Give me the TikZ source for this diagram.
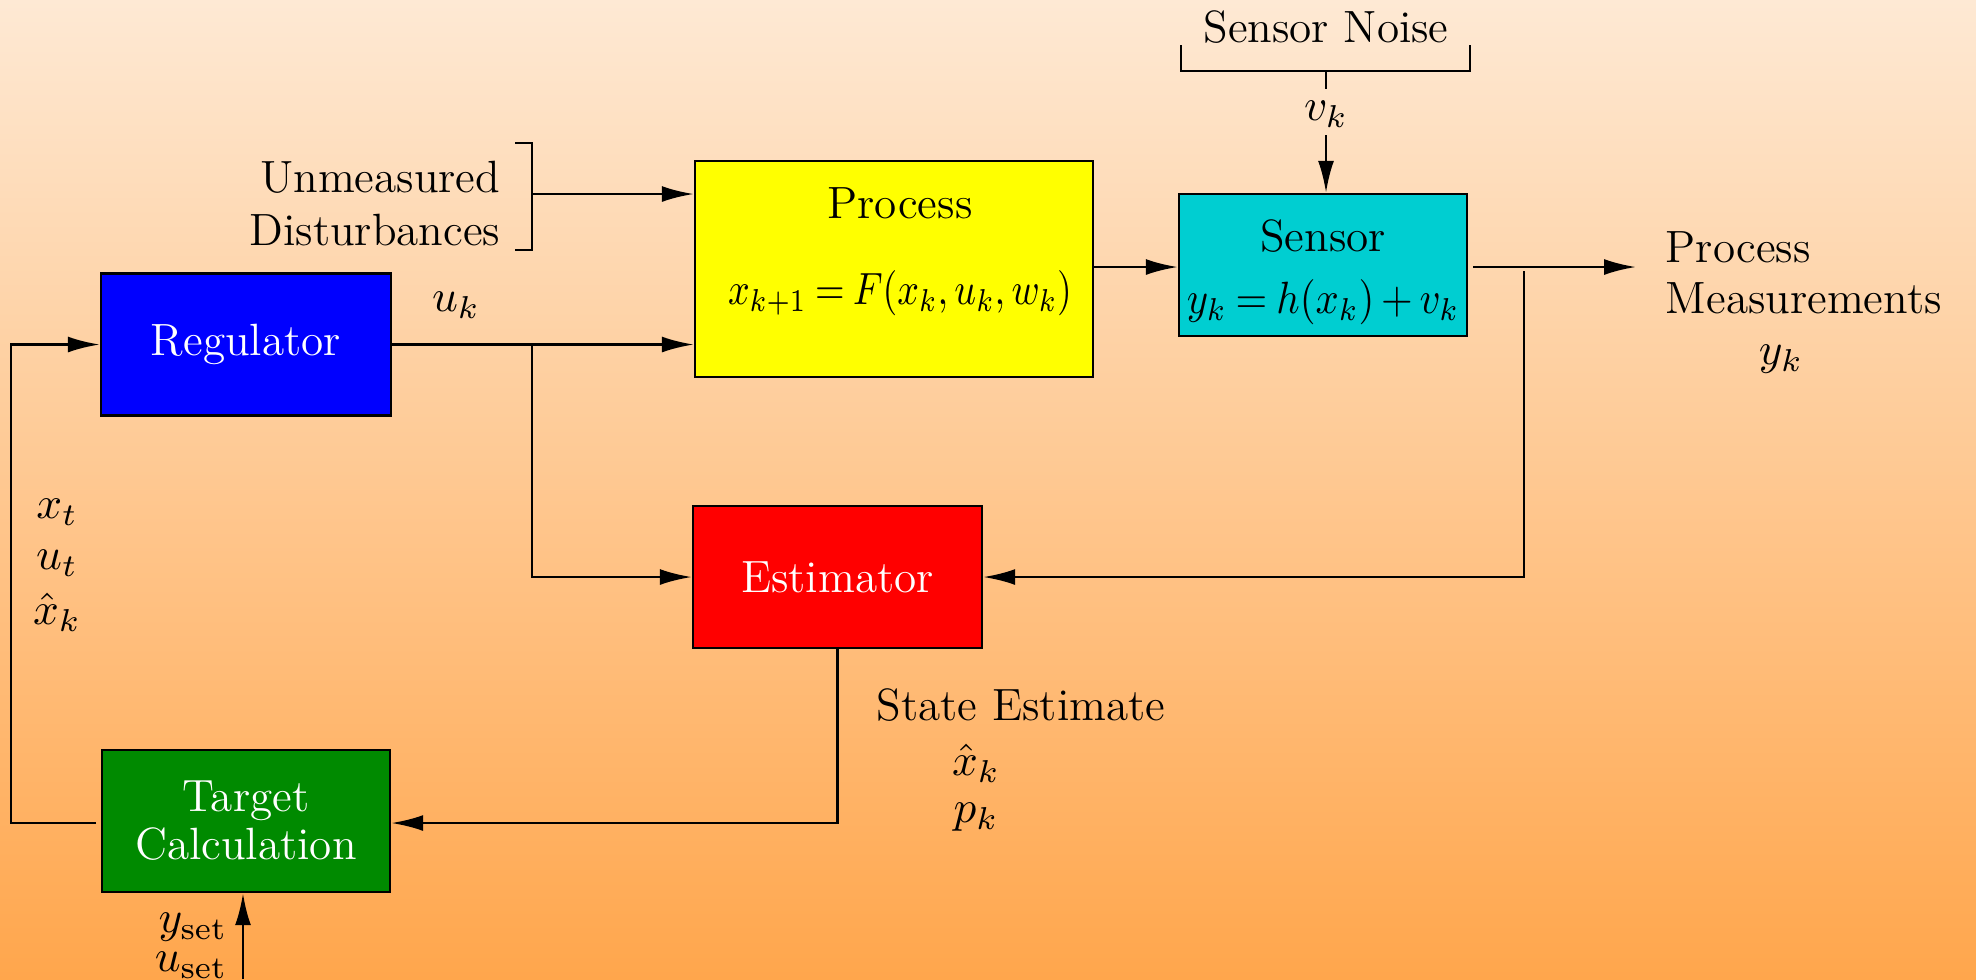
\documentclass[tikz,border=0pt]{standalone}
\usepackage{fix-cm}
\usepackage{graphicx}
\usetikzlibrary{arrows.meta}
\definecolor{bgtop}{RGB}{254,233,212}
\definecolor{bgbot}{RGB}{255,166,76}
\definecolor{regblue}{RGB}{0,0,255}
\definecolor{procyellow}{RGB}{255,255,0}
\definecolor{sensorcyan}{RGB}{0,206,209}
\definecolor{estred}{RGB}{255,0,0}
\definecolor{targetgreen}{RGB}{0,138,0}
\begin{document}
\begin{tikzpicture}[x=0.25pt,y=-0.25pt,
  every node/.style={font=\fontsize{11.3}{13.25}\selectfont},
  blk/.style={draw=black,line width=0.6pt,inner sep=0pt,align=center,minimum height=35.5pt},
  wire/.style={line width=0.7pt},
  arr/.style={wire,-{Latex[length=8pt,width=4pt]}},
  lbl/.style={inner sep=0pt},
]
\useasboundingbox (0,0) rectangle (1976,979);
\shade[top color=bgtop,bottom color=bgbot] (0,0) rectangle (1976,979);

% blocks
\node[blk,fill=regblue,text=white,minimum width=72.5pt] (reg) at (246,344.5) {Regulator};
\node[blk,fill=procyellow,minimum width=99.5pt,minimum height=54pt] (proc) at (894,269) {};
\node[lbl] (proct) at (900,203) {Process};
\node[lbl] (proceq) at (900,293) {\scalebox{0.84}[1]{$\thickmuskip=4mu x_{k+1}=F(x_k,u_k,w_k)$}};
\node[blk,fill=sensorcyan,minimum width=72pt] (sens) at (1323,265) {};
\node[lbl] (senst) at (1323,236) {Sensor};
\node[lbl] (senseq) at (1323,302) {\scalebox{0.9}[1]{$\thickmuskip=4mu \medmuskip=3mu y_k=h(x_k)+v_k$}};
\node[blk,fill=estred,text=white,minimum width=72.25pt] (est) at (837.5,577) {Estimator};
\node[blk,fill=targetgreen,text=white,minimum width=72pt,font=\fontsize{11.3}{12}\selectfont] (tgt) at (246,821) {Target\\Calculation};

% unmeasured disturbances
\node[lbl,align=right,anchor=east] (udt) at (501,204) {Unmeasured\\Disturbances};
\coordinate (ub1) at (515,143);
\coordinate (ub2) at (532,143);
\coordinate (ub3) at (532,250);
\coordinate (ub4) at (515,250);
\draw[wire] (ub1) -- (ub2) -- (ub3) -- (ub4);
\coordinate (ud) at (532,194);
\draw[arr] (ud) -- (ud -| proc.west);

% regulator to process and estimator
\draw[arr] (reg.east) -- (reg.east -| proc.west);
\coordinate (br1) at (532,344.5);
\draw[arr] (br1) |- (est.west);
\node[lbl] (uk) at (456,305) {$u_k$};

% process to sensor
\draw[arr] (proc.east |- 0,267) -- (sens.west |- 0,267);

% sensor noise
\node[lbl] (snt) at (1326,27) {Sensor Noise};
\coordinate (sb1) at (1181,45);
\coordinate (sb2) at (1181,71);
\coordinate (sb3) at (1470,71);
\coordinate (sb4) at (1470,45);
\draw[wire] (sb1) -- (sb2) -- (sb3) -- (sb4);
\coordinate (st1) at (1326,71);
\coordinate (st2) at (1326,89);
\draw[wire] (st1) -- (st2);
\node[lbl] (vk) at (1326,114) {$v_k$};
\coordinate (nv) at (1326,135);
\draw[arr] (nv) -- (nv |- sens.north);

% sensor output
\coordinate (so) at (1473,267);
\coordinate (pm) at (1636,267);
\draw[arr] (so) -- (pm);
\node[lbl,anchor=west] (pmt1) at (1665,247) {Process};
\node[lbl,anchor=west] (pmt2) at (1665,298) {Measurements};
\node[lbl] (pmy) at (1781,359) {$y_k$};
\coordinate (bs) at (1524,271);
\draw[arr] (bs) |- (est.east);

% estimator to target
\draw[arr] (est.south) |- (tgt.east |- 0,823);
\node[lbl,anchor=west] (set) at (876,705) {State Estimate};
\node[lbl] (sexh) at (976,763) {$\hat{x}_k$};
\node[lbl] (sepk) at (976,817) {$p_k$};

% target feedback to regulator
\coordinate (tl) at (96,823);
\coordinate (fbc) at (11,823);
\draw[arr] (tl) -- (fbc) |- (reg.west);
\node[lbl] (xt) at (57,512) {$x_t$};
\node[lbl] (ut) at (57,563) {$u_t$};
\node[lbl] (xh) at (57,612) {$\hat{x}_k$};

% setpoints
\coordinate (tb) at (243,979);
\draw[arr] (tb) -- (tb |- tgt.south);
\node[lbl,anchor=east] (yset) at (228,927) {$y_{\mathrm{set}}$};
\node[lbl,anchor=east] (uset) at (228,965) {$u_{\mathrm{set}}$};
\end{tikzpicture}
\end{document}
